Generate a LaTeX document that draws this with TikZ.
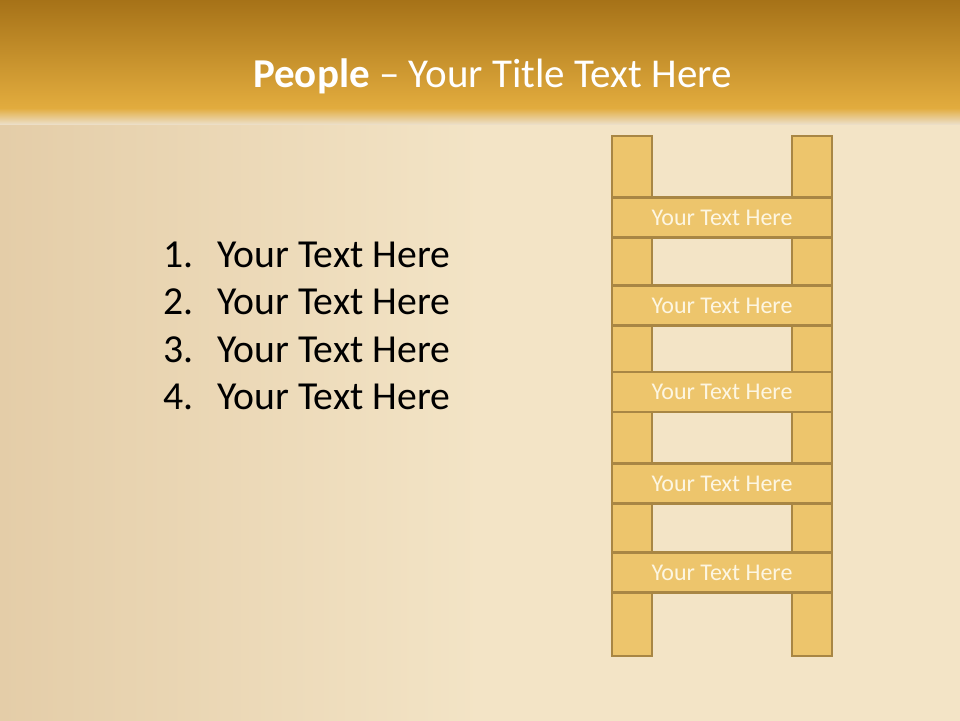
\documentclass[tikz,border=0pt]{standalone}
\usepackage{fontspec}
\setmainfont{Carlito}
\definecolor{bgbase}{RGB}{243,228,198}
\definecolor{bgdark}{RGB}{228,205,168}
\definecolor{bartop}{RGB}{166,114,24}
\definecolor{barbot}{RGB}{226,172,62}
\definecolor{fadeend}{RGB}{236,222,198}
\definecolor{ladfill}{RGB}{237,197,108}
\definecolor{ladedge}{RGB}{168,134,68}
\definecolor{ladtext}{RGB}{253,246,226}
\tikzset{
  part/.style={draw=ladedge, line width=2.8pt, fill=ladfill, inner sep=0pt},
  rung/.style={part, minimum width=220pt, minimum height=40pt, text=ladtext, font=\fontsize{24}{27}\selectfont},
  rail/.style={part, minimum width=40pt, minimum height=520pt},
  listnum/.style={anchor=base west, inner sep=0pt, font=\fontsize{39.7}{46}\selectfont},
  titletxt/.style={anchor=base west, inner sep=0pt, text=white, font=\fontsize{41}{46}\selectfont}
}
\begin{document}
\begin{tikzpicture}[x=1pt,y=-1pt]
\useasboundingbox (0,0) rectangle (960,720);
% background
\shade[left color=bgdark, right color=bgbase, middle color=bgbase, shading angle=90] (0,0) rectangle (960,720);
% title bar
\shade[top color=bartop, bottom color=barbot] (0,0) rectangle (960,108);
\shade[top color=barbot, bottom color=fadeend] (0,108) rectangle (960,124);
\node[titletxt] (title) at (253,87) {\textbf{People} – Your Title Text Here};
% list
\node[listnum] (n1) at (163,267) {1.};
\node[listnum] (t1) at (217,267) {Your Text Here};
\node[listnum] (n2) at (163,314.5) {2.};
\node[listnum] (t2) at (217,314.5) {Your Text Here};
\node[listnum] (n3) at (163,362) {3.};
\node[listnum] (t3) at (217,362) {Your Text Here};
\node[listnum] (n4) at (163,409.5) {4.};
\node[listnum] (t4) at (217,409.5) {Your Text Here};
% ladder
\node[rail] (railL) at (632,396) {};
\node[rail] (railR) at (812,396) {};
\node[rung] (r1) at (722,217.5) {Your Text Here};
\node[rung] (r2) at (722,305.5) {Your Text Here};
\node[rung] (r3) at (722,392) {Your Text Here};
\node[rung] (r4) at (722,483.5) {Your Text Here};
\node[rung] (r5) at (722,572.5) {Your Text Here};
\end{tikzpicture}
\end{document}
